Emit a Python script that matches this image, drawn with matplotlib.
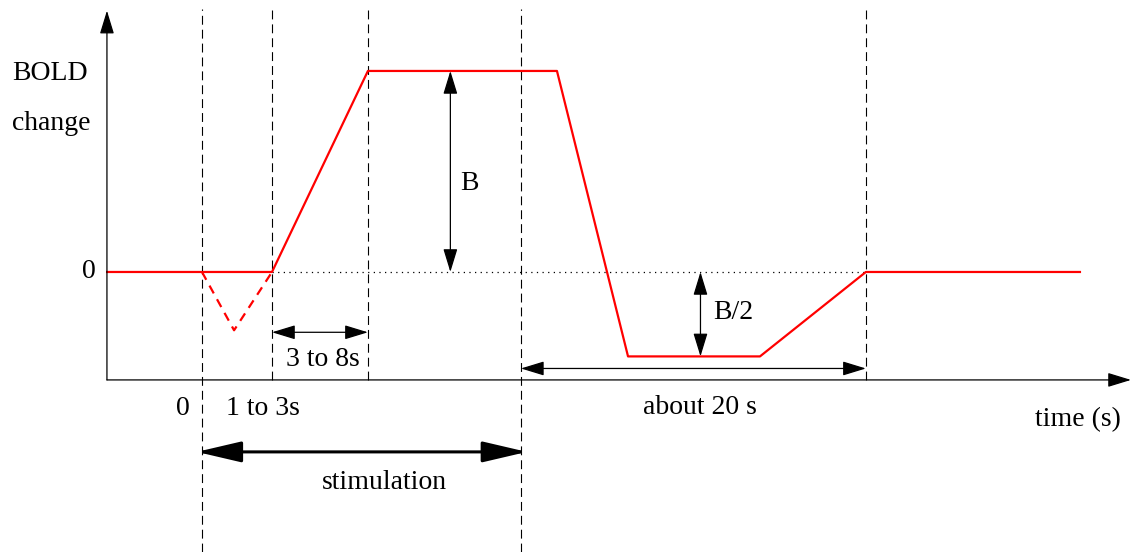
import matplotlib
matplotlib.use("Agg")
from matplotlib import pyplot as plt

plt.rcParams['font.family'] = ['Liberation Serif', 'DejaVu Serif']

# BOLD response sketch (time in s-ish units, BOLD in units of B)
bold_t = [-5.5, 0.0, 4.06, 9.62, 20.58, 24.70, 32.35, 38.49, 50.9]
bold_v = [0.0, 0.0, 0.0, 1.0, 1.0, -0.42, -0.42, 0.0, 0.0]

dip_t = [0.0, 1.86, 4.06]
dip_v = [0.0, -0.29, 0.0]

# markers running to the bottom of the sketch / stopping at the time axis
long_marker_t = [0.0, 18.49]
short_marker_t = [4.06, 9.62, 38.49]

axis_t0, axis_t1 = -5.51, 53.86
axis_v0, axis_v1 = -0.537, 1.30

fig = plt.figure(figsize=(11.31, 5.52), dpi=100)
ax = fig.add_axes([0, 0, 1, 1])
ax.set_xlim(-11.71, 53.86)
ax.set_ylim(-1.393, 1.353)
ax.axis('off')

# vertical dashed markers
for t in long_marker_t:
    ax.plot([t, t], [-1.393, 1.31], color='black', lw=0.8, dashes=(8, 4.5))
for t in short_marker_t:
    ax.plot([t, t], [axis_v0, 1.31], color='black', lw=0.8, dashes=(8, 4.5))

# dotted zero line
ax.plot([short_marker_t[0], short_marker_t[2]], [0, 0], color='black', lw=0.9, dashes=(1, 3.5))

# response curves
ax.plot(bold_t, bold_v, color='red', lw=1.6)
ax.plot(dip_t, dip_v, color='red', lw=1.6, dashes=(4, 3))

small = dict(arrowstyle='-|>,head_length=0.72,head_width=0.22', color='black',
             lw=0.9, shrinkA=0, shrinkB=0, mutation_scale=20)
both = dict(small, arrowstyle='<|-|>,head_length=0.72,head_width=0.22')
big = dict(arrowstyle='<|-|>,head_length=1.37,head_width=0.32', color='black',
           lw=2.2, shrinkA=0, shrinkB=0, mutation_scale=20)

# axes
ax.annotate('', xy=(axis_t0, axis_v1), xytext=(axis_t0, axis_v0), arrowprops=small)
ax.annotate('', xy=(axis_t1, axis_v0), xytext=(axis_t0, axis_v0), arrowprops=small)

# dimension arrows
ax.annotate('', xy=(14.4, 1.0), xytext=(14.4, 0.0), arrowprops=both)
ax.annotate('', xy=(28.9, 0.0), xytext=(28.9, -0.42), arrowprops=both)
ax.annotate('', xy=(short_marker_t[0], -0.30), xytext=(short_marker_t[1], -0.30), arrowprops=both)
ax.annotate('', xy=(long_marker_t[1], -0.48), xytext=(short_marker_t[2], -0.48), arrowprops=both)
ax.annotate('', xy=(long_marker_t[0] - 0.3, -0.895), xytext=(long_marker_t[1] + 0.35, -0.895),
            arrowprops=big)

fs = 20
ax.text(-11.0, 0.985, 'BOLD', fontsize=fs, ha='left', va='center')
ax.text(-11.0, 0.74, 'change', fontsize=fs, ha='left', va='center')
ax.text(-6.14, 0.0, '0', fontsize=fs, ha='right', va='center')
ax.text(-1.1, -0.68, '0', fontsize=fs, ha='center', va='center')
ax.text(3.52, -0.68, '1 to 3s', fontsize=fs, ha='center', va='center')
ax.text(6.98, -0.435, '3 to 8s', fontsize=fs, ha='center', va='center')
ax.text(15.5, 0.44, 'B', fontsize=fs, ha='center', va='center')
ax.text(30.78, -0.20, 'B/2', fontsize=fs, ha='center', va='center')
ax.text(28.87, -0.675, 'about 20 s', fontsize=fs, ha='center', va='center')
ax.text(50.78, -0.735, 'time (s)', fontsize=fs, ha='center', va='center')
ax.text(10.55, -1.045, 'stimulation', fontsize=fs, ha='center', va='center')

fig.savefig('out.png', dpi=100)
